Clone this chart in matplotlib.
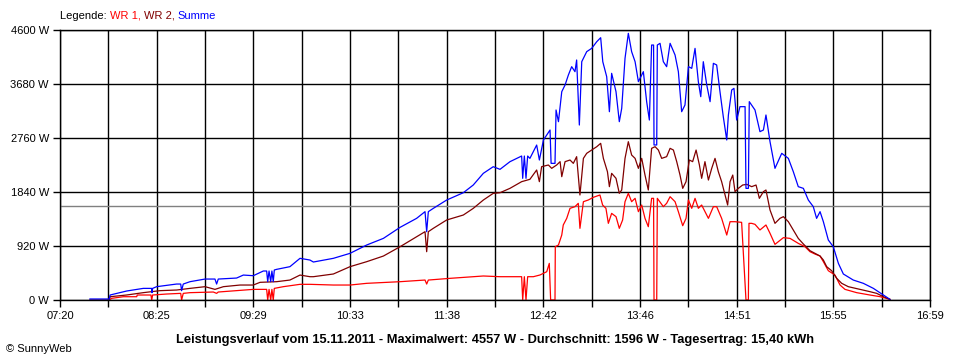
import numpy as np
import matplotlib
matplotlib.use("Agg")
import matplotlib.pyplot as plt

# Uhrzeit in Minuten seit 0:00, Leistung in W
summe_zeit = [460.6, 473.5, 474.0, 485.0, 496.1, 501.7, 501.9, 502.3, 505.0, 518.3, 521.0, 521.6, 522.7,
              527.2, 537.2, 543.8, 544.9, 546.0, 558.2, 562.7, 569.3, 576.0, 578.2, 578.9, 579.8, 580.9,
              581.7, 582.6, 583.3, 584.8, 593.7, 600.4, 607.0, 609.3, 622.6, 633.7, 644.8, 655.9, 667.0,
              678.0, 683.6, 684.7, 685.8, 689.1, 698.0, 709.1, 715.7, 722.4, 729.0, 733.5, 740.1, 747.9,
              748.6, 749.7, 750.8, 751.9, 753.4, 757.9, 759.7, 762.4, 766.8, 767.5, 770.1, 770.8, 772.4,
              774.6, 776.8, 779.0, 781.2, 783.4, 784.5, 786.3, 787.9, 791.2, 794.5, 797.9, 800.5, 801.9,
              804.5, 806.3, 807.8, 810.7, 812.9, 814.5, 816.7, 818.9, 821.1, 823.4, 825.6, 828.9, 831.1,
              832.9, 834.4, 835.7, 836.0, 837.8, 838.2, 840.0, 842.2, 844.4, 846.7, 850.0, 852.2, 854.4,
              856.6, 858.9, 861.1, 863.3, 865.5, 867.1, 868.8, 871.1, 873.3, 875.5, 877.7, 879.9, 882.1,
              884.4, 885.5, 887.7, 889.2, 891.0, 893.2, 896.6, 897.2, 898.8, 899.4, 903.2, 906.5, 908.8,
              910.5, 913.2, 916.5, 921.0, 925.4, 928.7, 932.0, 935.4, 938.7, 942.0, 944.2, 946.5, 948.7,
              952.0, 955.3, 958.7, 962.0, 968.6, 975.3, 982.0, 985.3, 988.6, 993.0]
summe_watt = [17, 17, 85, 153, 198, 198, 125, 198, 227, 272, 272, 159, 272,
              312, 357, 357, 272, 357, 374, 425, 414, 494, 494, 313, 494, 313,
              494, 313, 511, 522, 568, 710, 681, 647, 710, 795, 937, 1050, 1238,
              1391, 1505, 1164, 1505, 1561, 1703, 1828, 1959, 2158, 2271, 2226, 2356, 2453,
              2073, 2453, 2073, 2453, 2413, 2640, 2385, 2726, 2896, 2328, 2328, 3237, 3038,
              3549, 3663, 3833, 3975, 3890, 4089, 2981, 4060, 4231, 4287, 4401, 4469, 4060,
              3805, 3208, 3862, 3549, 3038, 3265, 4117, 4543, 4231, 4060, 3720, 3890, 3379,
              3066, 4344, 4344, 2641, 2641, 4344, 4373, 4060, 3975, 4373, 4174, 3890, 3208,
              3322, 3975, 3947, 4287, 3720, 3464, 4060, 3663, 3379, 4032, 4004, 3549, 3123,
              2726, 3152, 3578, 3606, 3066, 3294, 3294, 1902, 1902, 3379, 3237, 2868, 2896,
              3152, 2697, 2243, 2499, 2413, 2186, 1931, 1902, 1703, 1590, 1391, 1505, 1334,
              1022, 908, 624, 443, 340, 284, 198, 142, 85, 11]

wr2_zeit = [460.6, 473.5, 474.0, 485.0, 496.1, 507.2, 518.3, 527.2, 537.2, 543.8, 549.4, 560.5, 569.3,
            573.8, 584.8, 593.7, 600.4, 607.0, 609.3, 622.6, 633.7, 644.8, 655.9, 667.0, 678.0, 683.6,
            684.7, 685.8, 689.1, 698.0, 709.1, 715.7, 722.4, 729.0, 733.5, 740.1, 747.9, 753.4, 757.9,
            759.7, 761.2, 765.7, 767.9, 771.2, 773.5, 774.6, 776.8, 780.1, 782.3, 784.5, 786.7, 789.0,
            791.2, 794.5, 797.9, 800.5, 802.3, 805.0, 806.3, 807.8, 810.7, 812.9, 814.5, 816.7, 818.9,
            821.1, 823.4, 825.6, 827.8, 830.0, 832.2, 834.4, 836.7, 838.9, 841.1, 844.4, 846.7, 848.9,
            851.1, 853.3, 855.1, 857.3, 859.5, 861.7, 864.0, 866.2, 867.7, 869.9, 872.2, 874.4, 876.6,
            878.8, 881.0, 883.3, 885.0, 886.6, 888.4, 889.9, 892.1, 895.0, 897.7, 901.0, 903.9, 906.1,
            908.8, 910.5, 913.2, 916.5, 919.8, 922.1, 925.4, 928.7, 932.0, 935.4, 939.8, 943.1, 946.5,
            948.7, 950.9, 954.2, 957.6, 960.9, 965.3, 973.1, 979.7, 984.2, 988.6, 993.0]
wr2_watt = [0, 0, 56, 85, 125, 159, 170, 198, 227, 181, 227, 255, 255,
            301, 312, 340, 425, 397, 397, 443, 568, 653, 749, 908, 1079, 1164,
            823, 1164, 1221, 1363, 1448, 1561, 1703, 1817, 1828, 1902, 2016, 2056, 2215,
            2016, 2271, 2300, 2243, 2300, 2357, 2101, 2357, 2385, 2328, 2442, 1789, 2413,
            2499, 2555, 2612, 2669, 2413, 2186, 1931, 2158, 2073, 1817, 1874, 2413, 2697,
            2470, 2413, 2243, 2413, 2129, 1874, 2584, 2612, 2555, 2413, 2442, 2584, 2555,
            2357, 2129, 1902, 2016, 2385, 2357, 2555, 2300, 2073, 2357, 2044, 2243, 2413,
            2186, 2016, 1789, 1618, 2016, 2129, 1846, 1902, 1959, 1970, 1931, 1959, 1732,
            1846, 1874, 1533, 1306, 1391, 1420, 1334, 1193, 1050, 954, 840, 795, 749,
            681, 568, 499, 369, 284, 227, 181, 142, 113, 57, 11]

wr1_zeit = [473.5, 475.0, 482.8, 491.7, 492.1, 501.2, 501.7, 502.3, 511.7, 521.0, 521.6, 522.7, 527.2,
            542.7, 544.9, 546.0, 558.2, 569.3, 578.2, 578.9, 579.8, 580.9, 581.7, 582.6, 583.3, 589.3,
            600.4, 607.0, 622.6, 633.7, 644.8, 667.0, 683.6, 684.7, 685.8, 700.2, 722.4, 733.5, 747.9,
            748.6, 749.7, 750.8, 751.9, 755.7, 760.1, 764.6, 766.3, 767.2, 770.1, 770.3, 772.4, 774.6,
            775.6, 777.9, 780.1, 783.4, 785.6, 786.7, 789.0, 792.3, 795.6, 800.0, 801.8, 804.0, 805.6,
            807.8, 810.7, 812.9, 815.1, 816.7, 818.9, 821.1, 823.4, 825.6, 827.8, 830.0, 832.2, 834.4,
            835.7, 836.0, 837.8, 838.2, 842.2, 844.4, 846.7, 850.0, 852.2, 855.1, 857.3, 858.9, 861.1,
            863.3, 865.5, 867.7, 869.9, 872.2, 875.5, 877.7, 881.0, 884.4, 886.6, 889.9, 894.3, 897.2,
            898.8, 899.2, 901.0, 903.2, 906.5, 910.5, 913.2, 916.5, 922.1, 926.5, 932.0, 936.5, 939.8,
            943.1, 946.5, 948.7, 952.0, 956.4, 959.8, 963.1, 970.9, 979.7, 986.4, 993.0]
wr1_watt = [0, 28, 56, 56, 85, 85, 0, 85, 102, 113, 0, 113, 125,
            136, 113, 136, 159, 181, 181, 0, 181, 0, 181, 0, 198, 227,
            267, 267, 255, 255, 284, 312, 340, 272, 340, 369, 409, 397, 397,
            0, 397, 0, 397, 397, 426, 482, 624, 0, 0, 908, 937, 1107,
            1278, 1391, 1562, 1590, 1647, 1221, 1675, 1704, 1749, 1789, 1618, 1562, 1306,
            1476, 1420, 1221, 1363, 1675, 1817, 1675, 1732, 1505, 1618, 1391, 1249, 1732,
            1732, 0, 0, 1732, 1590, 1647, 1760, 1675, 1505, 1266, 1391, 1704, 1562,
            1732, 1562, 1618, 1505, 1391, 1590, 1590, 1391, 1107, 1334, 1334, 1323, 0,
            0, 1306, 1306, 1289, 1193, 1278, 1136, 948, 1062, 1050, 965, 908, 823,
            783, 749, 653, 499, 426, 255, 181, 125, 85, 57, 11]

durchschnitt = 1596
y_ticks = [0, 920, 1840, 2760, 3680, 4600]
x_labels = ["07:20", "08:25", "09:29", "10:33", "11:38", "12:42", "13:46", "14:51", "15:55", "16:59"]
t_start, t_end = 440.67, 1019.67

titel = ("Leistungsverlauf vom 15.11.2011 - Maximalwert: 4557 W - "
         "Durchschnitt: 1596 W - Tagesertrag: 15,40 kWh")

plt.rcParams['font.family'] = ['Liberation Sans', 'DejaVu Sans']

fig = plt.figure(figsize=(9.6, 3.6), dpi=100)
ax = fig.add_axes([60 / 960, 60 / 360, 870 / 960, 270 / 360])

ax.set_xlim(t_start, t_end)
ax.set_ylim(0, 4600)

grid_x = np.linspace(t_start, t_end, 19)
ax.set_xticks(grid_x)
ax.set_xticklabels([x_labels[i // 2] if i % 2 == 0 else "" for i in range(19)])
ax.set_yticks(y_ticks)
ax.set_yticklabels([f"{v} W" for v in y_ticks])
ax.tick_params(axis='both', length=5, width=1, color='black', labelsize=8, pad=3)

for gx in grid_x:
    ax.axvline(gx, color='black', lw=1.0, zorder=1)
for gy in y_ticks:
    ax.axhline(gy, color='black', lw=1.0, zorder=1)
ax.axhline(durchschnitt, color='#808080', lw=1.0, zorder=2)

ax.plot(wr1_zeit, wr1_watt, color='#ff0000', lw=0.9, zorder=3)
ax.plot(wr2_zeit, wr2_watt, color='#800000', lw=0.9, zorder=4)
ax.plot(summe_zeit, summe_watt, color='#0000ff', lw=0.9, zorder=5)

for s in ax.spines.values():
    s.set_color('black')
    s.set_linewidth(1.0)
    s.set_zorder(6)

# Legende als farbige Textstücke
teile = [("Legende: ", 'black'), ("WR 1, ", '#ff0000'), ("WR 2, ", '#800000'), ("Summe", '#0000ff')]
renderer = fig.canvas.get_renderer()
x_pos = 60 / 960
for txt, col in teile:
    t = fig.text(x_pos, 1 - 16 / 360, txt, color=col, fontsize=8, va='center', ha='left')
    bb = t.get_window_extent(renderer=renderer)
    x_pos += bb.width / 960

fig.text(495 / 960, 1 - 340 / 360, titel, ha='center', va='center', fontsize=9.3,
         fontweight='bold')
fig.text(6 / 960, 1 - 349 / 360, "© SunnyWeb", ha='left', va='center', fontsize=8)

fig.savefig("out.png", dpi=100, facecolor='white')
